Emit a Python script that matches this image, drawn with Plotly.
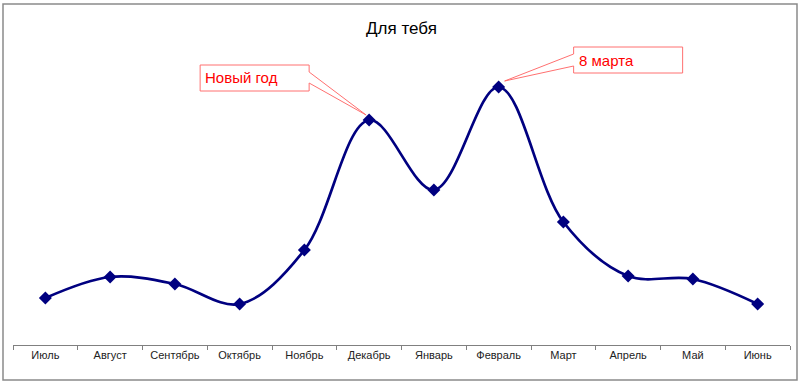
import plotly.graph_objects as go

months = ["Июль", "Август", "Сентябрь", "Октябрь", "Ноябрь", "Декабрь",
          "Январь", "Февраль", "Март", "Апрель", "Май", "Июнь"]
values = [47, 68, 61, 41, 95, 225, 155, 258, 123, 69, 66, 41]
title_text = "Для тебя"
callout_labels = {"Декабрь": "Новый год", "Февраль": "8 марта"}

W, H = 800, 383
ML, MR, MT, MB = 13, 10, 45, 38
YMAX = 300

fig = go.Figure()
fig.add_trace(go.Scatter(
    x=months, y=values, mode="lines+markers",
    line=dict(color="#000080", width=2.7, shape="spline", smoothing=1.0),
    marker=dict(symbol="diamond", size=10, color="#000080"),
    hoverinfo="x+y", showlegend=False,
))

pw = W - ML - MR
ph = H - MT - MB
def px2paper_x(p):
    return (p - ML) / pw
def px2paper_y(p):
    return (H - MB - p) / ph

shapes = [
    dict(type="rect", xref="paper", yref="paper",
         x0=px2paper_x(3), x1=px2paper_x(797), y0=px2paper_y(380), y1=px2paper_y(4),
         line=dict(color="#8a8a8a", width=1.5), fillcolor="rgba(0,0,0,0)", layer="below"),
]

# callout outlines (pixel offsets relative to data point)
paths = {
    "Декабрь": "M -169,55 L -60,55 L -60,48 L -3,5 L -60,37 L -60,29 L -169,29 Z",
    "Февраль": "M 75,40 L 184,40 L 184,14 L 75,14 L 75,21 L 6,6 L 75,33 Z",
}
text_off = {"Декабрь": (-166, 43), "Февраль": (78, 27)}
annotations = []
for m, label in callout_labels.items():
    i = months.index(m)
    shapes.append(dict(type="path", xref="x", yref="y",
                       xsizemode="pixel", ysizemode="pixel",
                       xanchor=i, yanchor=values[i], path=paths[m],
                       line=dict(color="#ff7070", width=1), fillcolor="white", layer="above"))
    dx, dy = text_off[m]
    annotations.append(dict(x=m, y=values[i], xref="x", yref="y", text=label,
                            showarrow=False, xanchor="left", yanchor="middle",
                            xshift=dx, yshift=dy,
                            font=dict(family="Liberation Sans, Arial", size=15, color="#ff0000")))

fig.update_layout(
    width=W, height=H,
    margin=dict(l=ML, r=MR, t=MT, b=MB),
    paper_bgcolor="white", plot_bgcolor="white",
    title=dict(text=title_text, x=0.5, xref="paper", y=1 - 28 / H, yanchor="middle",
               font=dict(family="Liberation Sans, Arial", size=17, color="#000000")),
    xaxis=dict(type="category", showgrid=False, zeroline=False,
               showline=True, linecolor="#808080", linewidth=1,
               ticks="outside", ticklen=4, tickcolor="#808080", tickson="boundaries",
               tickfont=dict(family="Liberation Sans, Arial", size=11, color="#222222"),
               range=[-0.5, len(months) - 0.5]),
    yaxis=dict(visible=False, range=[0, YMAX], showgrid=False, zeroline=False),
    shapes=shapes,
    annotations=annotations,
)

fig.write_html("out.html", config={"displayModeBar": False},
               post_script="document.body.style.margin='0';document.body.style.overflow='hidden';")
